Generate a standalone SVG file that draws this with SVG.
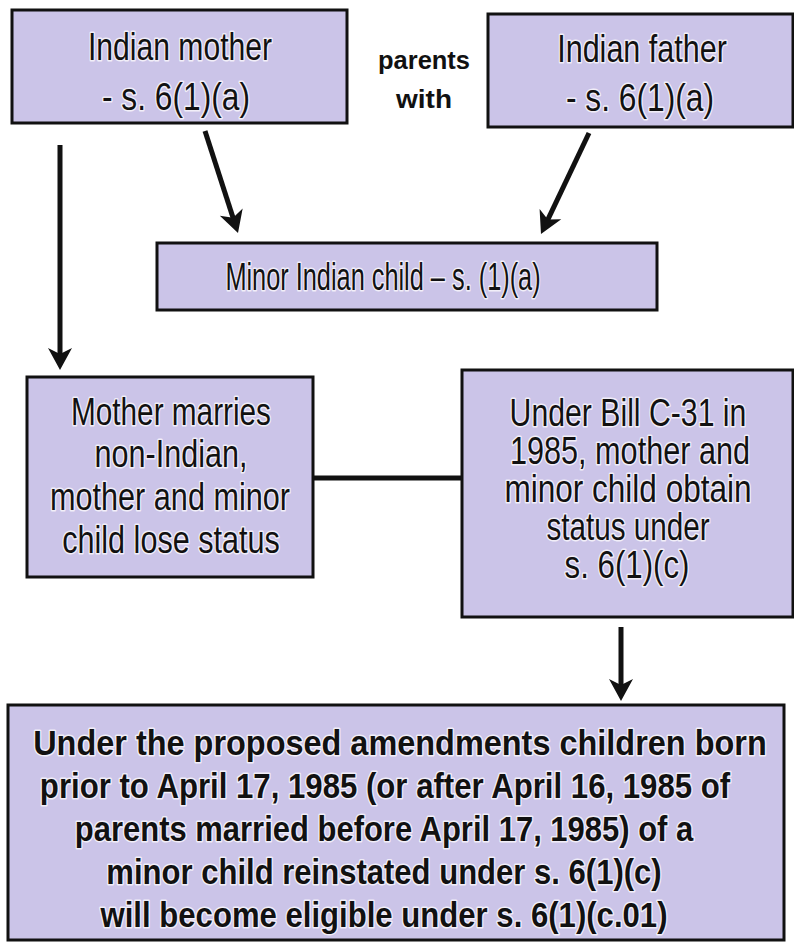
<svg xmlns="http://www.w3.org/2000/svg" width="794" height="948" viewBox="0 0 794 948">
  <style>
    .box { fill: #cbc4e8; stroke: #111; stroke-width: 3; }
    .t { font-family: "Liberation Sans", Arial, sans-serif; font-size: 38px; fill: #111; text-anchor: middle; stroke: #f1eef8; stroke-width: 3; stroke-linejoin: round; paint-order: stroke; }
    .b { font-family: "Liberation Sans", Arial, sans-serif; font-weight: bold; fill: #111; text-anchor: middle; }
    .bt { font-size: 36px; stroke: #f1eef8; stroke-width: 3; stroke-linejoin: round; paint-order: stroke; }
    .lbl { font-size: 26px; }
    .edge { stroke: #111; stroke-width: 5; fill: none; }
  </style>
  <defs>
    <marker id="head" markerUnits="userSpaceOnUse" viewBox="-2 -14 26 28" markerWidth="26" markerHeight="28" refX="8" refY="0" orient="auto">
      <path d="M0,-12 L22,0 L0,12 L6,0 Z" fill="#111"/>
    </marker>
  </defs>
  <rect width="794" height="948" fill="#fff"/>

  <g id="connectors">
    <line class="edge" x1="205" y1="131" x2="233.7" y2="219.7" marker-end="url(#head)"/>
    <line class="edge" x1="589" y1="133" x2="547" y2="221.4" marker-end="url(#head)"/>
    <line class="edge" x1="60" y1="145" x2="60" y2="356" marker-end="url(#head)"/>
    <line class="edge" x1="313" y1="478" x2="462" y2="478"/>
    <line class="edge" x1="621" y1="627" x2="621" y2="687" marker-end="url(#head)"/>
  </g>

  <!-- box labels use a narrow face: horizontal scale 0.8, so x values are centre / 0.8 -->
  <g id="indian-mother">
    <rect class="box" x="12" y="10" width="335" height="113"/>
    <g transform="scale(0.8 1)">
      <text class="t" x="225" y="60" textLength="230" lengthAdjust="spacingAndGlyphs">Indian mother</text>
      <text class="t" x="220" y="110" textLength="185" lengthAdjust="spacingAndGlyphs">- s. 6(1)(a)</text>
    </g>
  </g>

  <g id="parents-with">
    <text class="b lbl" x="424" y="69" textLength="92" lengthAdjust="spacingAndGlyphs">parents</text>
    <text class="b lbl" x="424" y="108" textLength="56" lengthAdjust="spacingAndGlyphs">with</text>
  </g>

  <g id="indian-father">
    <rect class="box" x="488" y="14" width="305" height="113"/>
    <g transform="scale(0.8 1)">
      <text class="t" x="802.5" y="62" textLength="212" lengthAdjust="spacingAndGlyphs">Indian father</text>
      <text class="t" x="800" y="111" textLength="185" lengthAdjust="spacingAndGlyphs">- s. 6(1)(a)</text>
    </g>
  </g>

  <g id="minor-child">
    <rect class="box" x="157" y="243" width="500" height="67"/>
    <g transform="scale(0.8 1)">
      <text class="t" x="478.75" y="290" textLength="394" lengthAdjust="spacingAndGlyphs">Minor Indian child – s. (1)(a)</text>
    </g>
  </g>

  <g id="mother-marries">
    <rect class="box" x="27" y="377" width="286" height="200"/>
    <g transform="scale(0.8 1)">
      <text class="t" x="213.75" y="425" textLength="250" lengthAdjust="spacingAndGlyphs">Mother marries</text>
      <text class="t" x="213.75" y="467" textLength="191" lengthAdjust="spacingAndGlyphs">non-Indian,</text>
      <text class="t" x="212.5" y="510" textLength="300" lengthAdjust="spacingAndGlyphs">mother and minor</text>
      <text class="t" x="213.75" y="553" textLength="272" lengthAdjust="spacingAndGlyphs">child lose status</text>
    </g>
  </g>

  <g id="bill-c31">
    <rect class="box" x="462" y="370" width="331" height="247"/>
    <g transform="scale(0.8 1)">
      <text class="t" x="785" y="426" textLength="296" lengthAdjust="spacingAndGlyphs">Under Bill C-31 in</text>
      <text class="t" x="787.5" y="464" textLength="300" lengthAdjust="spacingAndGlyphs">1985, mother and</text>
      <text class="t" x="785" y="502" textLength="309" lengthAdjust="spacingAndGlyphs">minor child obtain</text>
      <text class="t" x="785" y="540" textLength="204" lengthAdjust="spacingAndGlyphs">status under</text>
      <text class="t" x="783.75" y="578" textLength="156" lengthAdjust="spacingAndGlyphs">s. 6(1)(c)</text>
    </g>
  </g>

  <!-- bold narrow face: horizontal scale 0.9, x values are centre / 0.9 -->
  <g id="proposed-amendments">
    <rect class="box" x="8" y="705" width="776" height="235"/>
    <g transform="scale(0.9 1)">
      <text class="b bt" x="444.4" y="755" textLength="815" lengthAdjust="spacingAndGlyphs">Under the proposed amendments children born</text>
      <text class="b bt" x="427.8" y="798" textLength="767" lengthAdjust="spacingAndGlyphs">prior to April 17, 1985 (or after April 16, 1985 of</text>
      <text class="b bt" x="426.7" y="841" textLength="687" lengthAdjust="spacingAndGlyphs">parents married before April 17, 1985) of a</text>
      <text class="b bt" x="426.7" y="884" textLength="617" lengthAdjust="spacingAndGlyphs">minor child reinstated under s. 6(1)(c)</text>
      <text class="b bt" x="426.7" y="927" textLength="630" lengthAdjust="spacingAndGlyphs">will become eligible under s. 6(1)(c.01)</text>
    </g>
  </g>
</svg>
